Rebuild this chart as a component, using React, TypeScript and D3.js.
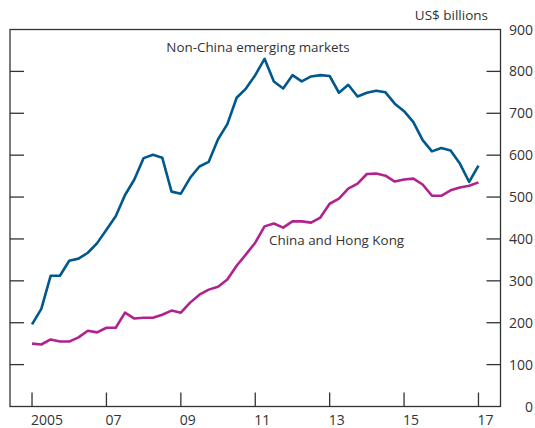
import * as d3 from "d3";

// Quarterly, 2005 Q1 to 2017 Q1, US$ billions
const nonChinaEM = [
  196, 233, 312, 312, 348, 353, 367, 390, 422, 454, 505, 542, 593, 601, 594,
  513, 508, 546, 573, 584, 638, 674, 737, 759, 791, 830, 776, 759, 791, 776,
  788, 791, 789, 749, 768, 740, 749, 754, 750, 723, 705, 679, 636, 609, 617,
  611, 580, 536, 575,
];
const chinaHK = [
  150, 148, 160, 155, 155, 165, 181, 177, 188, 188, 224, 210, 212, 212, 219,
  229, 224, 248, 267, 279, 286, 303, 336, 363, 391, 430, 437, 427, 442, 442,
  439, 451, 484, 496, 520, 532, 555, 556, 551, 537, 542, 544, 530, 503, 503,
  516, 523, 527, 535,
];
const startYear = 2005;
const yearTicks = [2005, 2007, 2009, 2011, 2013, 2015, 2017];
const yearLabels = ["2005", "07", "09", "11", "13", "15", "17"];
const valueTicks = [0, 100, 200, 300, 400, 500, 600, 700, 800, 900];

const W = 535;
const H = 428;
const left = 10;
const right = 500.5;
const top = 29.5;
const bottom = 406.5;
const tickLen = 14;
const font = "'Open Sans', 'Noto Sans', sans-serif";
const ink = "#333";

export default function App() {
  const x = d3.scaleLinear().domain([2004.408, 2017.592]).range([left, right]);
  const y = d3.scaleLinear().domain([0, 900]).range([bottom, top]);

  const t = (i: number) => startYear + i / 4;
  const line = d3
    .line<number>()
    .x((_, i) => x(t(i)))
    .y((d) => y(d));

  return (
    <svg
      width={W}
      height={H}
      style={{ position: "absolute", left: 0, top: 0, background: "#fff" }}
      fontFamily={font}
    >
      {/* frame */}
      <rect
        x={left}
        y={top}
        width={right - left}
        height={bottom - top}
        fill="none"
        stroke={ink}
        strokeWidth={1.3}
      />

      {/* y ticks both sides */}
      {valueTicks
        .filter((v) => v > 0 && v < 900)
        .map((v) => (
          <g key={v}>
            <line x1={left} x2={left + tickLen} y1={y(v)} y2={y(v)} stroke={ink} strokeWidth={1.3} />
            <line x1={right - tickLen} x2={right} y1={y(v)} y2={y(v)} stroke={ink} strokeWidth={1.3} />
          </g>
        ))}
      {valueTicks.map((v) => (
        <text
          key={"l" + v}
          x={533}
          y={y(v) + 5}
          textAnchor="end"
          fontSize={14}
          fill={ink}
        >
          {v}
        </text>
      ))}
      <text x={488} y={20} textAnchor="end" fontSize={13.5} fill={ink}>
        US$ billions
      </text>

      {/* x ticks */}
      {yearTicks.map((yr, i) => (
        <g key={yr}>
          <line x1={x(yr)} x2={x(yr)} y1={bottom} y2={bottom - tickLen} stroke={ink} strokeWidth={1.3} />
          <text x={x(yr) - 1} y={425} fontSize={14} fill={ink}>
            {yearLabels[i]}
          </text>
        </g>
      ))}

      {/* series */}
      <path d={line(chinaHK) ?? ""} fill="none" stroke="#b0238e" strokeWidth={2.6} strokeLinejoin="round" />
      <path d={line(nonChinaEM) ?? ""} fill="none" stroke="#00588c" strokeWidth={2.6} strokeLinejoin="round" />

      <text x={258} y={52} textAnchor="middle" fontSize={13.4} fill={ink}>
        Non-China emerging markets
      </text>
      <text x={269} y={245} fontSize={13.4} fill={ink}>
        China and Hong Kong
      </text>
    </svg>
  );
}
